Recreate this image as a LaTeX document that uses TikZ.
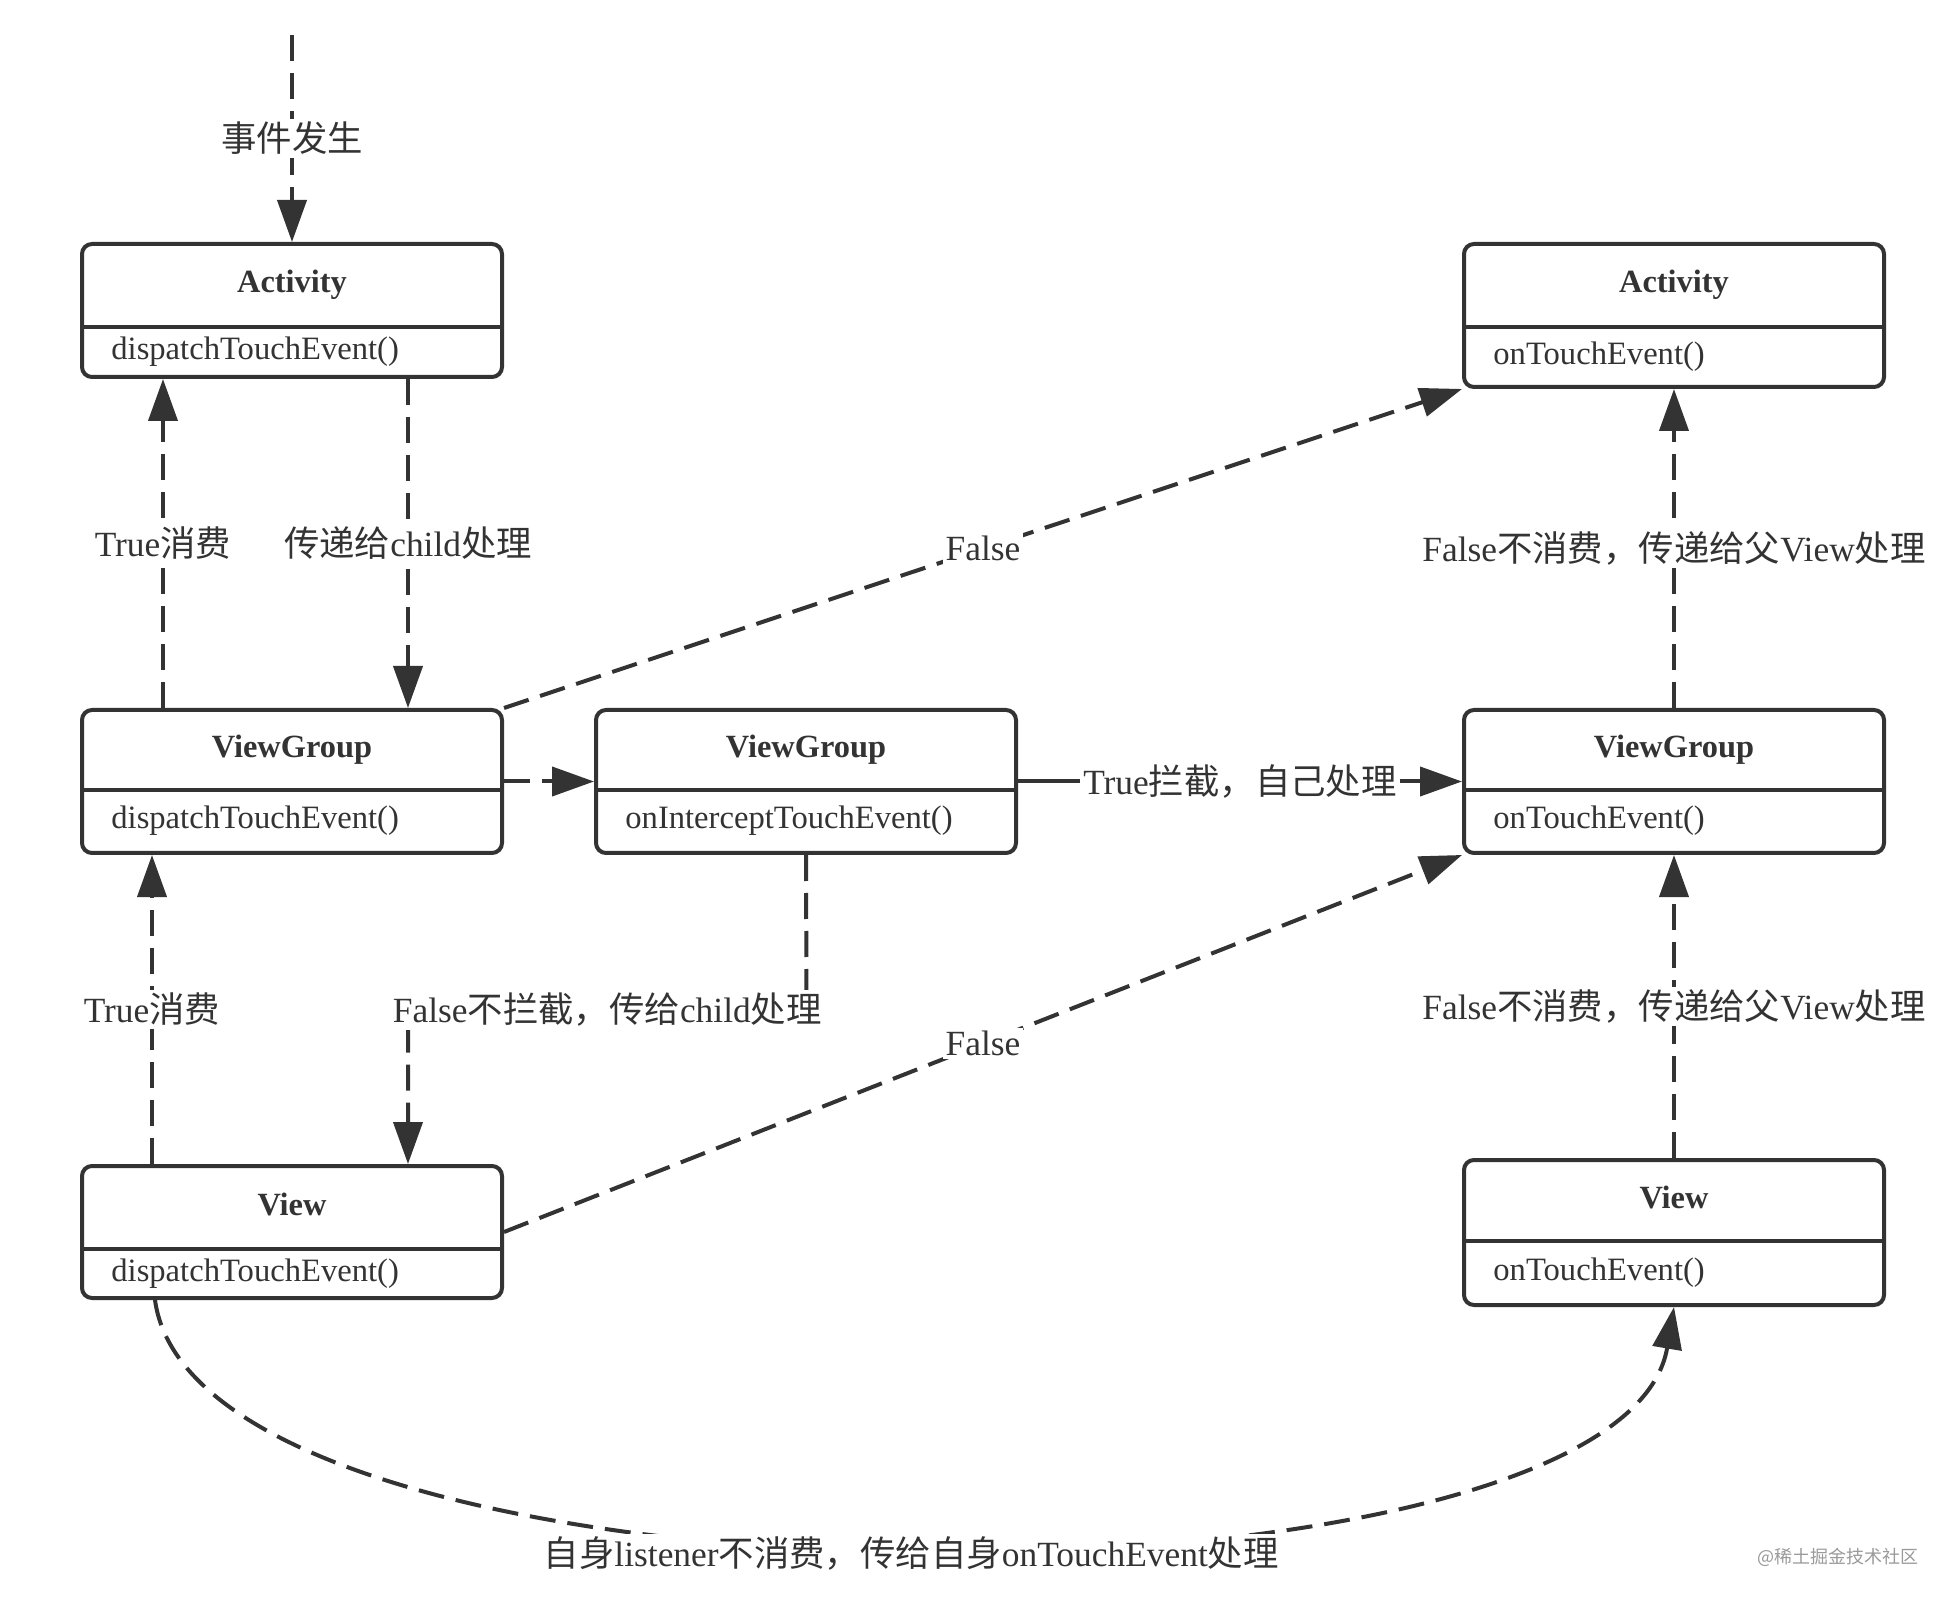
\documentclass[tikz,border=0pt]{standalone}
\usepackage{fontspec}
\setmainfont{Liberation Serif}
\newfontfamily\cjk{Noto Sans CJK SC}
\usetikzlibrary{arrows.meta}
\definecolor{ink}{HTML}{333333}
\definecolor{wmgray}{HTML}{9A9A9A}
\tikzset{
  box/.style={draw=ink, line width=2pt, rounded corners=5pt, minimum width=210pt, inner sep=0pt},
  boxline/.style={draw=ink, line width=2pt},
  titletext/.style={inner sep=0pt, text=ink, font=\fontsize{16.2pt}{18pt}\selectfont\bfseries, text height=11pt, text depth=3.5pt},
  methodtext/.style={inner sep=0pt, text=ink, font=\fontsize{16.3pt}{18pt}\selectfont, text height=11pt, text depth=3.5pt},
  conn/.style={draw=ink, line width=2pt, -{Triangle[length=21pt, width=14.5pt]}},
  dconn/.style={conn, dash pattern=on 13pt off 6pt},
  lbl/.style={fill=white, inner sep=1.5pt, text=ink, font=\fontsize{17.7pt}{20pt}\selectfont},
  wm/.style={inner sep=0pt, text=wmgray, font=\fontsize{9pt}{11pt}\selectfont\cjk}
}
\newcommand\umlbox[7]{%
  \pgfmathsetmacro\ubcx{#2+210}%
  \pgfmathsetmacro\ubcy{(#3+#5)/2}%
  \pgfmathsetmacro\ubh{(#5-#3)/2}%
  \pgfmathsetmacro\ubty{(#3+#4)/2}%
  \pgfmathsetmacro\ubmy{(#4+#5)/2}%
  \pgfmathsetmacro\ubmx{#2+29}%
  \node[box, minimum height=\ubh pt] (#1) at (\ubcx,\ubcy) {};
  \draw[boxline] (#1.west |- 0,#4) -- (#1.east |- 0,#4);
  \node[titletext] (#1-title) at (\ubcx,\ubty) {#6};
  \node[methodtext, anchor=west] (#1-method) at (\ubmx,\ubmy) {#7};
}
\begin{document}
\begin{tikzpicture}[x=0.5pt, y=-0.5pt]
\fill[white] (0,0) rectangle (1956,1604);
\useasboundingbox (0,0) rectangle (1956,1604);

% boxes: name, left, top, divider, bottom, title, method
\umlbox{actL}{82}{244}{327}{377}{Activity}{dispatchTouchEvent()}
\umlbox{actR}{1464}{244}{327}{387}{Activity}{onTouchEvent()}
\umlbox{vgL}{82}{710}{790}{853}{ViewGroup}{dispatchTouchEvent()}
\umlbox{vgM}{596}{710}{790}{853}{ViewGroup}{onInterceptTouchEvent()}
\umlbox{vgR}{1464}{710}{790}{853}{ViewGroup}{onTouchEvent()}
\umlbox{viewL}{82}{1166}{1249}{1298}{View}{dispatchTouchEvent()}
\umlbox{viewR}{1464}{1160}{1241}{1305}{View}{onTouchEvent()}

\coordinate (src) at (292,35);
\coordinate (vgMbend) at (806.5,1010);
\coordinate (viewLbend) at (408,1010);
\coordinate (c1) at (200,1629);
\coordinate (c2) at (1620,1629);

% event start
\draw[dconn] (src) -- node[lbl] {\cjk 事件发生} (actL.north);

% Activity <-> ViewGroup (left)
\draw[dconn] ([xshift=58pt]actL.south) -- node[lbl] {{\cjk 传递给}child{\cjk 处理}} ([xshift=58pt]vgL.north);
\draw[dconn] ([xshift=-64.5pt]vgL.north) -- node[lbl] {True{\cjk 消费}} ([xshift=-64.5pt]actL.south);

% ViewGroup -> Activity right (False)
\draw[dconn] (vgL.north east) -- node[lbl] {False} (actR.south west);

% ViewGroup dispatch -> intercept
\draw[dconn] (vgL.east) -- (vgM.west);

% intercept -> ViewGroup onTouchEvent
\draw[conn] (vgM.east) -- node[lbl] {True{\cjk 拦截，自己处理}} (vgR.west);

% intercept -> View (False)
\draw[dconn] (vgM.south) -- (vgMbend) -- node[lbl] {False{\cjk 不拦截，传给}child{\cjk 处理}} (viewLbend) -- ([xshift=58pt]viewL.north);

% View -> ViewGroup (True)
\draw[dconn] ([xshift=-70pt]viewL.north) -- node[lbl] {True{\cjk 消费}} ([xshift=-70pt]vgL.south);

% View -> ViewGroup onTouchEvent (False)
\draw[dconn] (viewL.east) -- node[lbl] {False} (vgR.south west);

% right column
\draw[dconn] (vgR.north) -- node[lbl] {False{\cjk 不消费，传递给父}View{\cjk 处理}} (actR.south);
\draw[dconn] (viewR.north) -- node[lbl] {False{\cjk 不消费，传递给父}View{\cjk 处理}} (vgR.south);

% bottom curve
\draw[dconn] ([xshift=-68.5pt]viewL.south) .. controls (c1) and (c2) .. node[lbl, pos=0.5, yshift=-3pt] {{\cjk 自身}listener{\cjk 不消费，传给自身}onTouchEvent{\cjk 处理}} (viewR.south);

% watermark
\node[wm] (wmark) at (1838,1557) {@稀土掘金技术社区};
\end{tikzpicture}
\end{document}
